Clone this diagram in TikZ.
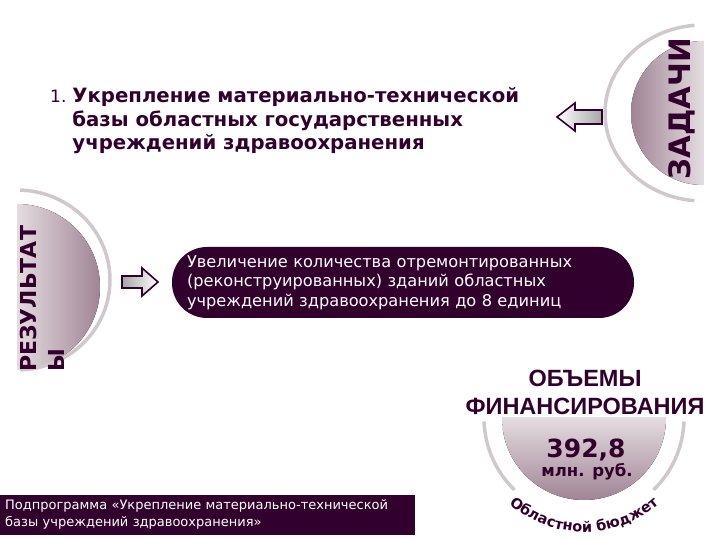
\documentclass[tikz,border=0pt]{standalone}
\usepackage{fontspec}
\setmainfont{DejaVu Sans}
\newfontfamily\headfont{Liberation Sans}
\usetikzlibrary{decorations.text}
\definecolor{plum}{RGB}{50,0,45}
\definecolor{mauve}{RGB}{160,132,148}
\definecolor{pale}{RGB}{228,220,224}
\definecolor{ring}{RGB}{208,200,204}
\tikzset{
  ringline/.style={draw=ring, line width=3.5pt},
  blockarrow/.style={draw=plum, line width=1.6pt, line join=miter},
  label/.style={text=plum, inner sep=0pt},
}
\begin{document}
\begin{tikzpicture}[x=1pt,y=1pt]
        \useasboundingbox (0,0) rectangle (720,540);
        % half discs with their rings
        \fill[left color=mauve, right color=pale] (703,499) arc[start angle=90, end angle=270, radius=72] -- cycle;
        \draw[ringline] (703,427) ++(95:98 and 88) arc[start angle=95, end angle=265, x radius=98, y radius=88];
        \fill[left color=pale, right color=mauve] (17,336) arc[start angle=90, end angle=-90, radius=83] -- cycle;
        \draw[ringline] (17,260) ++(88:93 and 90) arc[start angle=88, end angle=-88, x radius=93, y radius=90];
        \fill[top color=pale, bottom color=mauve] (502,122) arc[start angle=180, end angle=360, radius=82] -- cycle;
        \foreach \a/\b in {182/226,314/358}
            \draw[ringline] (584,122) ++(\a:100) arc[start angle=\a, end angle=\b, radius=100];
        \node[label, rotate=90, anchor=base, font=\bfseries\fontsize{29.5}{29.5}\selectfont] (tasks) at (690,431) {ЗАДАЧИ};
        \node[label, rotate=90, anchor=north west, align=left, font=\bfseries\fontsize{22}{28}\selectfont] (results) at (20,168) {РЕЗУЛЬТАТ\\Ы};
        % task and result
        \node[label, anchor=base west, font=\bfseries\fontsize{19.7}{23.5}\selectfont] (task) at (50,437)
            {\begin{tabular}[t]{@{}l@{\hspace{6pt}}l@{}}{\mdseries\fontsize{17}{17}\selectfont 1.} & Укрепление материально-технической\\
             & базы областных государственных\\ & учреждений здравоохранения\end{tabular}};
        \draw[blockarrow, left color=white, right color=gray!70] (557,423) -- (575,437) -- (575,430) -- (602,430) -- (602,416) -- (575,416) -- (575,409) -- cycle;
        \draw[blockarrow, left color=gray!70, right color=white] (158,258) -- (142,272) -- (142,264) -- (122,264) -- (122,252) -- (142,252) -- (142,244) -- cycle;
        \node[fill=plum, text=white, rounded corners=35pt, minimum width=462, minimum height=71, text width=432, inner xsep=15pt, align=left,
            font=\fontsize{16.2}{19.5}\selectfont] (result) at (403,257.5)
            {Увеличение количества отремонтированных\\(реконструированных) зданий областных\\учреждений здравоохранения до 8 единиц};
        % financing
        \node[label, anchor=base, font=\headfont\bfseries\fontsize{23.5}{23.5}\selectfont] (fundA) at (585,153) {ОБЪЕМЫ};
        \node[label, anchor=base, font=\headfont\bfseries\fontsize{23.5}{23.5}\selectfont] (fundB) at (585,125) {ФИНАНСИРОВАНИЯ};
        \node[label, anchor=base, font=\bfseries\fontsize{25}{25}\selectfont] (sum) at (586,82) {392,8};
        \node[label, anchor=base, font=\bfseries\fontsize{16.5}{16.5}\selectfont] (unit) at (587,63) {млн. руб.};
        \path[decorate, decoration={text along path, text align=center, text color=plum,
            text={|\bfseries\fontsize{14.5}{14.5}\selectfont|Областной бюджет}}]
            (584,122) ++(216:114) arc[start angle=216, end angle=324, radius=114];
        \node[fill=plum, text=white, anchor=south west, minimum width=415, minimum height=40, text width=405, inner xsep=5pt, align=left,
            font=\fontsize{13}{17}\selectfont] (sub) at (0,5)
            {Подпрограмма «Укрепление материально-технической\\базы учреждений здравоохранения»};
\end{tikzpicture}
\end{document}
